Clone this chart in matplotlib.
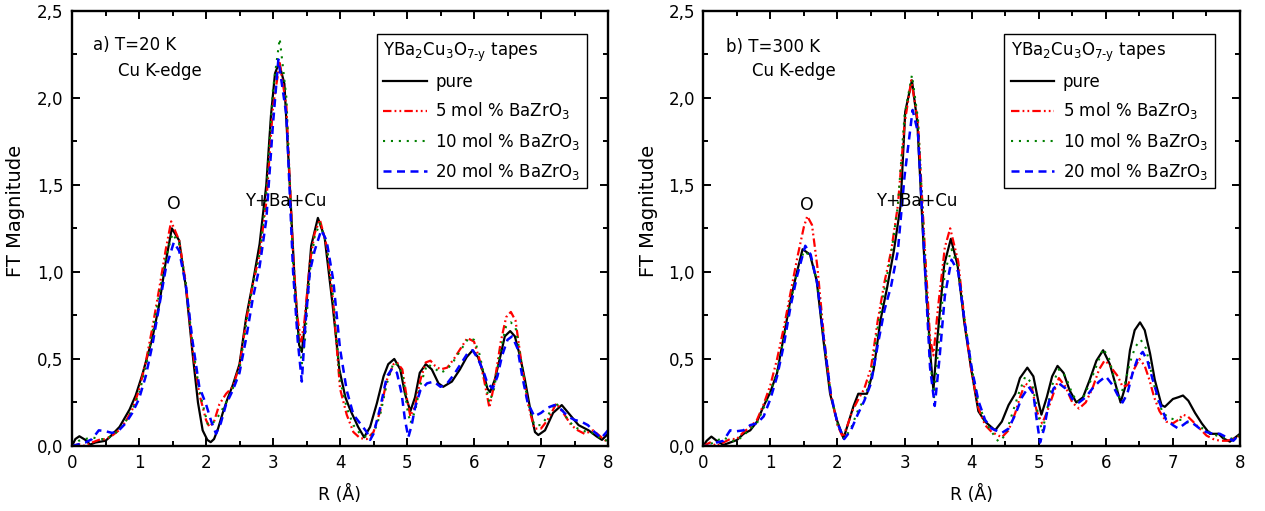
import numpy as np
import matplotlib
matplotlib.use("Agg")
import matplotlib.pyplot as plt
from matplotlib.ticker import MultipleLocator

plt.rcParams['font.family'] = ['DejaVu Sans']
plt.rcParams['mathtext.fontset'] = 'dejavusans'

# ---------------- data: panel a) T = 20 K ----------------
a_pure_R = [0, 0.05, 0.11, 0.2, 0.27, 0.35, 0.5, 0.56, 0.71, 0.86, 0.95, 1.05, 1.2, 1.3, 1.4, 1.49, 1.6, 1.7, 1.8, 1.88,
            1.95, 2.02, 2.07, 2.12, 2.18, 2.25, 2.32, 2.4, 2.5, 2.6, 2.7, 2.8, 2.9, 2.97, 3.03, 3.09, 3.17, 3.24, 3.32,
            3.39, 3.43, 3.47, 3.57, 3.67, 3.77, 3.89, 3.99, 4.08, 4.15, 4.27, 4.36, 4.45, 4.55, 4.65, 4.72, 4.81, 4.9,
            4.97, 5.05, 5.12, 5.19, 5.28, 5.37, 5.47, 5.54, 5.67, 5.79, 5.89, 5.98, 6.06, 6.14, 6.2, 6.24, 6.31, 6.39,
            6.46, 6.54, 6.61, 6.69, 6.76, 6.84, 6.91, 6.96, 7.06, 7.18, 7.31, 7.43, 7.56, 7.71, 7.83, 7.91, 8.0]
a_pure_V = [0, 0.04, 0.056, 0.035, 0.008, 0.02, 0.03, 0.05, 0.11, 0.21, 0.29, 0.41, 0.62, 0.81, 1.06, 1.25, 1.18, 0.91,
            0.53, 0.25, 0.09, 0.035, 0.022, 0.04, 0.10, 0.19, 0.27, 0.35, 0.47, 0.74, 0.94, 1.16, 1.50, 1.90, 2.14, 2.20,
            2.08, 1.58, 0.97, 0.58, 0.54, 0.68, 1.15, 1.31, 1.20, 0.81, 0.44, 0.28, 0.21, 0.11, 0.05, 0.11, 0.245, 0.40,
            0.47, 0.50, 0.44, 0.30, 0.20, 0.28, 0.42, 0.47, 0.44, 0.36, 0.34, 0.37, 0.44, 0.51, 0.55, 0.51, 0.42, 0.33,
            0.31, 0.38, 0.51, 0.63, 0.66, 0.63, 0.51, 0.38, 0.21, 0.08, 0.063, 0.09, 0.19, 0.235, 0.18, 0.12, 0.09,
            0.055, 0.035, 0.07]

a_5_R = [0, 0.1, 0.2, 0.3, 0.4, 0.5, 0.6, 0.7, 0.8, 0.9, 1.0, 1.1, 1.2, 1.3, 1.4, 1.48, 1.6, 1.7, 1.8, 1.9, 2.0, 2.05,
         2.12, 2.2, 2.3, 2.4, 2.5, 2.6, 2.7, 2.8, 2.9, 3.0, 3.1, 3.2, 3.3, 3.36, 3.42, 3.47, 3.55, 3.62, 3.7, 3.8, 3.9,
         4.0, 4.1, 4.2, 4.3, 4.4, 4.5, 4.6, 4.7, 4.8, 4.85, 4.93, 5.0, 5.05, 5.12, 5.2, 5.28, 5.35, 5.42, 5.5, 5.6, 5.7,
         5.8, 5.9, 6.0, 6.08, 6.15, 6.23, 6.3, 6.4, 6.48, 6.55, 6.62, 6.7, 6.8, 6.9, 7.0, 7.1, 7.23, 7.35, 7.45, 7.55,
         7.65, 7.78, 7.9, 8.0]
a_5_V = [0, 0.01, 0.0, 0.02, 0.035, 0.04, 0.06, 0.09, 0.14, 0.21, 0.32, 0.48, 0.68, 0.90, 1.13, 1.29, 1.18, 0.93, 0.55,
         0.30, 0.15, 0.11, 0.14, 0.24, 0.30, 0.34, 0.46, 0.72, 0.93, 1.10, 1.40, 1.95, 2.20, 1.95, 1.10, 0.75, 0.60,
         0.72, 1.05, 1.22, 1.30, 1.15, 0.82, 0.33, 0.18, 0.08, 0.045, 0.04, 0.08, 0.20, 0.38, 0.47, 0.48, 0.44, 0.27,
         0.17, 0.23, 0.38, 0.48, 0.49, 0.46, 0.44, 0.45, 0.50, 0.56, 0.62, 0.60, 0.50, 0.38, 0.22, 0.35, 0.60, 0.74,
         0.77, 0.72, 0.50, 0.25, 0.10, 0.10, 0.15, 0.245, 0.18, 0.12, 0.09, 0.07, 0.09, 0.05, 0.02]

a_10_R = [0, 0.1, 0.2, 0.3, 0.4, 0.5, 0.6, 0.7, 0.8, 0.9, 1.0, 1.1, 1.2, 1.3, 1.4, 1.5, 1.6, 1.7, 1.8, 1.9, 1.97, 2.03,
          2.1, 2.2, 2.3, 2.4, 2.5, 2.6, 2.7, 2.8, 2.9, 3.0, 3.1, 3.2, 3.3, 3.36, 3.43, 3.48, 3.55, 3.62, 3.7, 3.8, 3.9,
          4.0, 4.1, 4.2, 4.3, 4.4, 4.5, 4.6, 4.7, 4.8, 4.88, 4.95, 5.0, 5.05, 5.12, 5.2, 5.3, 5.4, 5.5, 5.6, 5.7, 5.8,
          5.92, 6.0, 6.08, 6.15, 6.23, 6.3, 6.4, 6.48, 6.55, 6.62, 6.7, 6.8, 6.9, 7.0, 7.1, 7.2, 7.3, 7.4, 7.5, 7.6,
          7.7, 7.8, 7.9, 8.0]
a_10_V = [0, 0.03, 0.04, 0.05, 0.04, 0.04, 0.06, 0.09, 0.14, 0.21, 0.30, 0.45, 0.65, 0.87, 1.08, 1.22, 1.16, 0.93,
          0.58, 0.32, 0.21, 0.12, 0.13, 0.18, 0.25, 0.33, 0.44, 0.70, 0.93, 1.10, 1.45, 2.05, 2.34, 2.0, 1.05, 0.70,
          0.47, 0.62, 1.0, 1.2, 1.28, 1.16, 0.85, 0.38, 0.22, 0.12, 0.07, 0.05, 0.07, 0.18, 0.36, 0.48, 0.46, 0.38,
          0.22, 0.13, 0.2, 0.35, 0.47, 0.45, 0.42, 0.44, 0.49, 0.55, 0.62, 0.61, 0.53, 0.41, 0.25, 0.33, 0.56, 0.69,
          0.71, 0.68, 0.50, 0.26, 0.12, 0.12, 0.17, 0.25, 0.22, 0.15, 0.11, 0.09, 0.08, 0.07, 0.04, 0.03]

a_20_R = [0, 0.1, 0.2, 0.3, 0.4, 0.5, 0.6, 0.7, 0.8, 0.9, 1.0, 1.1, 1.2, 1.3, 1.4, 1.52, 1.6, 1.7, 1.8, 1.9, 2.0, 2.08,
          2.15, 2.22, 2.3, 2.4, 2.5, 2.6, 2.7, 2.8, 2.9, 3.0, 3.08, 3.2, 3.3, 3.37, 3.43, 3.48, 3.55, 3.62, 3.72, 3.8,
          3.9, 4.0, 4.1, 4.2, 4.3, 4.4, 4.45, 4.5, 4.6, 4.7, 4.78, 4.85, 4.92, 4.97, 5.02, 5.07, 5.12, 5.2, 5.3, 5.4,
          5.5, 5.6, 5.7, 5.8, 5.9, 5.98, 6.06, 6.14, 6.2, 6.28, 6.35, 6.42, 6.5, 6.57, 6.65, 6.72, 6.8, 6.9, 7.0, 7.1,
          7.2, 7.3, 7.4, 7.5, 7.6, 7.7, 7.8, 7.9, 8.0]
a_20_V = [0, 0.01, 0.02, 0.04, 0.09, 0.085, 0.075, 0.09, 0.13, 0.19, 0.27, 0.40, 0.58, 0.80, 1.02, 1.17, 1.12, 0.92,
          0.60, 0.34, 0.24, 0.14, 0.07, 0.13, 0.24, 0.32, 0.42, 0.62, 0.85, 1.03, 1.30, 1.85, 2.22, 1.90, 1.00, 0.60,
          0.37, 0.68, 1.00, 1.12, 1.24, 1.18, 0.95, 0.56, 0.32, 0.18, 0.13, 0.08, 0.035, 0.07, 0.22, 0.40, 0.445,
          0.42, 0.30, 0.15, 0.05, 0.12, 0.22, 0.32, 0.36, 0.37, 0.34, 0.36, 0.41, 0.47, 0.53, 0.55, 0.50, 0.43, 0.36,
          0.33, 0.40, 0.52, 0.61, 0.63, 0.56, 0.40, 0.25, 0.17, 0.19, 0.22, 0.235, 0.21, 0.17, 0.15, 0.14, 0.12,
          0.08, 0.045, 0.09]

# ---------------- data: panel b) T = 300 K ----------------
b_pure_R = [0, 0.05, 0.12, 0.2, 0.3, 0.4, 0.5, 0.6, 0.7, 0.8, 0.9, 1.0, 1.1, 1.19, 1.29, 1.39, 1.48, 1.59, 1.69, 1.79,
            1.89, 1.99, 2.09, 2.16, 2.24, 2.31, 2.38, 2.44, 2.54, 2.64, 2.74, 2.84, 2.94, 3.01, 3.11, 3.19, 3.29, 3.39,
            3.43, 3.49, 3.59, 3.69, 3.79, 3.89, 3.99, 4.06, 4.1, 4.2, 4.35, 4.45, 4.55, 4.65, 4.72, 4.83, 4.92, 5.0,
            5.04, 5.12, 5.2, 5.28, 5.37, 5.46, 5.56, 5.66, 5.76, 5.86, 5.96, 6.06, 6.14, 6.22, 6.29, 6.36, 6.43, 6.51,
            6.58, 6.66, 6.73, 6.83, 6.88, 7.0, 7.08, 7.15, 7.23, 7.33, 7.43, 7.55, 7.68, 7.75, 7.85, 8.0]
b_pure_V = [0, 0.03, 0.054, 0.03, 0.006, 0.02, 0.034, 0.07, 0.09, 0.14, 0.23, 0.31, 0.42, 0.61, 0.82, 0.99, 1.13, 1.10,
            0.95, 0.61, 0.30, 0.15, 0.044, 0.13, 0.23, 0.30, 0.30, 0.30, 0.44, 0.72, 0.91, 1.12, 1.38, 1.92, 2.10, 1.86,
            1.10, 0.50, 0.32, 0.62, 1.04, 1.19, 1.04, 0.71, 0.45, 0.29, 0.20, 0.14, 0.09, 0.14, 0.235, 0.30, 0.39, 0.45,
            0.40, 0.245, 0.18, 0.28, 0.40, 0.46, 0.42, 0.32, 0.25, 0.28, 0.38, 0.49, 0.55, 0.47, 0.36, 0.25, 0.34, 0.55,
            0.665, 0.71, 0.665, 0.53, 0.38, 0.235, 0.225, 0.27, 0.28, 0.29, 0.26, 0.19, 0.13, 0.07, 0.07, 0.044, 0.025,
            0.07]

b_5_R = [0, 0.1, 0.2, 0.3, 0.4, 0.5, 0.6, 0.7, 0.8, 0.9, 1.0, 1.1, 1.2, 1.3, 1.4, 1.5, 1.55, 1.62, 1.7, 1.8, 1.9, 2.0,
         2.08, 2.15, 2.22, 2.3, 2.4, 2.5, 2.6, 2.7, 2.8, 2.9, 3.0, 3.1, 3.2, 3.3, 3.38, 3.43, 3.5, 3.6, 3.68, 3.8, 3.9,
         4.0, 4.1, 4.2, 4.3, 4.45, 4.55, 4.65, 4.72, 4.8, 4.9, 4.97, 5.05, 5.12, 5.2, 5.3, 5.4, 5.5, 5.6, 5.7, 5.8, 5.9,
         5.98, 6.05, 6.1, 6.18, 6.25, 6.33, 6.42, 6.5, 6.58, 6.65, 6.72, 6.8, 6.9, 7.0, 7.08, 7.15, 7.22, 7.3, 7.4, 7.5,
         7.6, 7.7, 7.8, 7.9, 8.0]
b_5_V = [0, 0.02, 0.0, 0.02, 0.04, 0.04, 0.08, 0.11, 0.15, 0.24, 0.35, 0.50, 0.68, 0.88, 1.08, 1.26, 1.32, 1.27, 1.03,
         0.62, 0.30, 0.12, 0.05, 0.12, 0.20, 0.26, 0.33, 0.45, 0.72, 0.94, 1.12, 1.38, 1.85, 2.10, 1.86, 1.15, 0.62,
         0.52, 0.80, 1.14, 1.25, 1.06, 0.70, 0.42, 0.22, 0.12, 0.08, 0.05, 0.09, 0.19, 0.28, 0.36, 0.33, 0.20, 0.13,
         0.19, 0.28, 0.39, 0.34, 0.25, 0.215, 0.25, 0.33, 0.44, 0.49, 0.47, 0.44, 0.40, 0.34, 0.35, 0.44, 0.50, 0.46,
         0.38, 0.28, 0.20, 0.14, 0.13, 0.15, 0.18, 0.17, 0.14, 0.10, 0.06, 0.04, 0.03, 0.03, 0.04, 0.06]

b_10_R = [0, 0.1, 0.2, 0.3, 0.4, 0.5, 0.6, 0.7, 0.8, 0.9, 1.0, 1.1, 1.2, 1.3, 1.4, 1.5, 1.6, 1.7, 1.8, 1.9, 2.0, 2.1,
          2.2, 2.3, 2.4, 2.5, 2.6, 2.7, 2.8, 2.9, 3.0, 3.11, 3.2, 3.3, 3.38, 3.44, 3.5, 3.6, 3.7, 3.8, 3.9, 4.0, 4.1,
          4.2, 4.3, 4.4, 4.5, 4.6, 4.7, 4.8, 4.9, 4.97, 5.05, 5.12, 5.2, 5.3, 5.4, 5.5, 5.58, 5.68, 5.8, 5.9, 5.96,
          6.05, 6.13, 6.2, 6.28, 6.36, 6.44, 6.52, 6.6, 6.68, 6.76, 6.85, 6.95, 7.05, 7.15, 7.25, 7.35, 7.45, 7.55,
          7.65, 7.75, 7.85, 8.0]
b_10_V = [0, 0.01, 0.03, 0.05, 0.03, 0.03, 0.06, 0.10, 0.13, 0.22, 0.31, 0.43, 0.62, 0.83, 1.0, 1.12, 1.09, 0.94,
          0.61, 0.30, 0.13, 0.04, 0.10, 0.20, 0.27, 0.40, 0.68, 0.90, 1.10, 1.38, 1.90, 2.13, 1.88, 1.12, 0.50, 0.28,
          0.55, 1.0, 1.13, 1.02, 0.72, 0.45, 0.25, 0.14, 0.08, 0.025, 0.06, 0.18, 0.30, 0.40, 0.36, 0.22, 0.08, 0.20,
          0.35, 0.44, 0.40, 0.30, 0.25, 0.29, 0.40, 0.50, 0.56, 0.50, 0.38, 0.28, 0.35, 0.48, 0.57, 0.61, 0.56, 0.42,
          0.28, 0.19, 0.16, 0.15, 0.15, 0.13, 0.12, 0.10, 0.08, 0.06, 0.05, 0.04, 0.06]

b_20_R = [0, 0.1, 0.2, 0.3, 0.4, 0.5, 0.6, 0.7, 0.8, 0.9, 1.0, 1.1, 1.2, 1.3, 1.4, 1.52, 1.6, 1.7, 1.8, 1.9, 2.0, 2.1,
          2.2, 2.3, 2.4, 2.5, 2.6, 2.7, 2.8, 2.9, 3.0, 3.12, 3.2, 3.3, 3.38, 3.45, 3.52, 3.6, 3.7, 3.8, 3.9, 4.0, 4.1,
          4.2, 4.3, 4.45, 4.55, 4.65, 4.75, 4.85, 4.92, 4.97, 5.02, 5.08, 5.15, 5.22, 5.3, 5.4, 5.5, 5.6, 5.7, 5.8,
          5.9, 6.0, 6.1, 6.18, 6.25, 6.32, 6.4, 6.48, 6.55, 6.62, 6.7, 6.8, 6.9, 7.0, 7.08, 7.15, 7.22, 7.3, 7.4, 7.5,
          7.6, 7.7, 7.8, 7.9, 8.0]
b_20_V = [0, 0.0, 0.02, 0.03, 0.09, 0.085, 0.09, 0.12, 0.13, 0.17, 0.27, 0.40, 0.58, 0.80, 0.98, 1.15, 1.10, 0.93,
          0.60, 0.30, 0.13, 0.04, 0.09, 0.18, 0.26, 0.36, 0.58, 0.78, 0.92, 1.12, 1.55, 1.93, 1.80, 1.05, 0.45, 0.23,
          0.50, 0.86, 1.07, 1.0, 0.70, 0.45, 0.26, 0.15, 0.10, 0.075, 0.10, 0.18, 0.28, 0.34, 0.30, 0.15, 0.02, 0.10,
          0.25, 0.33, 0.36, 0.33, 0.27, 0.25, 0.28, 0.33, 0.37, 0.40, 0.35, 0.29, 0.25, 0.30, 0.42, 0.51, 0.54, 0.49,
          0.38, 0.25, 0.15, 0.12, 0.10, 0.12, 0.14, 0.13, 0.10, 0.08, 0.07, 0.07, 0.05, 0.03, 0.07]

series_labels = ["pure", r"5 mol % BaZrO$_3$", r"10 mol % BaZrO$_3$", r"20 mol % BaZrO$_3$"]
legend_title = r"YBa$_2$Cu$_3$O$_{\text{7-y}}$ tapes"
y_ticks = [0.0, 0.5, 1.0, 1.5, 2.0, 2.5]
y_ticklabels = ["0,0", "0,5", "1,0", "1,5", "2,0", "2,5"]
x_ticks = [0, 1, 2, 3, 4, 5, 6, 7, 8]

panels = [
    dict(data=[(a_pure_R, a_pure_V), (a_5_R, a_5_V), (a_10_R, a_10_V), (a_20_R, a_20_V)],
         title="a) T=20 K", edge="Cu K-edge"),
    dict(data=[(b_pure_R, b_pure_V), (b_5_R, b_5_V), (b_10_R, b_10_V), (b_20_R, b_20_V)],
         title="b) T=300 K", edge="Cu K-edge"),
]

styles = [
    dict(color="black", lw=1.6, ls="-"),
    dict(color="#ff0000", lw=1.6, ls=(0, (3.8, 1.4, 0.8, 1.4, 0.8, 1.4))),
    dict(color="#008000", lw=1.5, ls=(0, (1.0, 2.8))),
    dict(color="#0000ff", lw=1.8, ls=(0, (3.2, 2.2))),
]

W, H = 1265, 511
fig = plt.figure(figsize=(W / 100, H / 100), dpi=100)

def px_rect(x0, y0, x1, y1):
    return [x0 / W, 1 - y1 / H, (x1 - x0) / W, (y1 - y0) / H]

axes_px = [(72, 10.7, 608, 446), (703.3, 10.7, 1240, 446)]
title_pos = [((93, 45.5), (118, 70.5), (174.3, 204), (286, 201), (16, 211), (340, 494)),
             ((726, 46.5), (752, 71.5), (807, 205), (917, 201), (648, 211), (972, 494))]
legend_anchor = [(0.961, 0.946), (0.953, 0.946)]

for i, p in enumerate(panels):
    ax = fig.add_axes(px_rect(*axes_px[i]))
    for (R, V), st, lab in zip(p["data"], styles, series_labels):
        assert len(R) == len(V)
        ax.plot(R, V, color=st["color"], lw=st["lw"], linestyle=st["ls"], label=lab)
    ax.set_xlim(0, 8)
    ax.set_ylim(0, 2.5)
    ax.set_xticks(x_ticks)
    ax.set_xticklabels([str(t) for t in x_ticks])
    ax.set_yticks(y_ticks)
    ax.set_yticklabels(y_ticklabels)
    ax.xaxis.set_minor_locator(MultipleLocator(0.5))
    ax.yaxis.set_minor_locator(MultipleLocator(0.25))
    ax.tick_params(which="both", direction="in", top=True, right=True, width=1.4, labelsize=12)
    ax.tick_params(which="major", length=6, pad=6)
    ax.tick_params(which="minor", length=3.5)
    for s in ax.spines.values():
        s.set_linewidth(1.7)

    tp = title_pos[i]
    fig.text(tp[0][0] / W, 1 - tp[0][1] / H, p["title"], fontsize=12, ha="left", va="center")
    fig.text(tp[1][0] / W, 1 - tp[1][1] / H, p["edge"], fontsize=12, ha="left", va="center")
    fig.text(tp[2][0] / W, 1 - tp[2][1] / H, "O", fontsize=12.5, ha="center", va="center")
    fig.text(tp[3][0] / W, 1 - tp[3][1] / H, "Y+Ba+Cu", fontsize=12, ha="center", va="center")
    fig.text(tp[4][0] / W, 1 - tp[4][1] / H, "FT Magnitude", fontsize=14, ha="center", va="center", rotation=90)
    fig.text(tp[5][0] / W, 1 - tp[5][1] / H, "R (Å)", fontsize=12.5, ha="center", va="center")

    leg = ax.legend(loc="upper right", bbox_to_anchor=legend_anchor[i], title=legend_title,
                    alignment="left", fontsize=12, title_fontsize=12, frameon=True, fancybox=False,
                    edgecolor="black", framealpha=1, handlelength=2.6, handletextpad=0.5,
                    labelspacing=0.55, borderpad=0.4, borderaxespad=0)
    leg.get_frame().set_linewidth(1.0)

fig.savefig("out.png", dpi=100)
